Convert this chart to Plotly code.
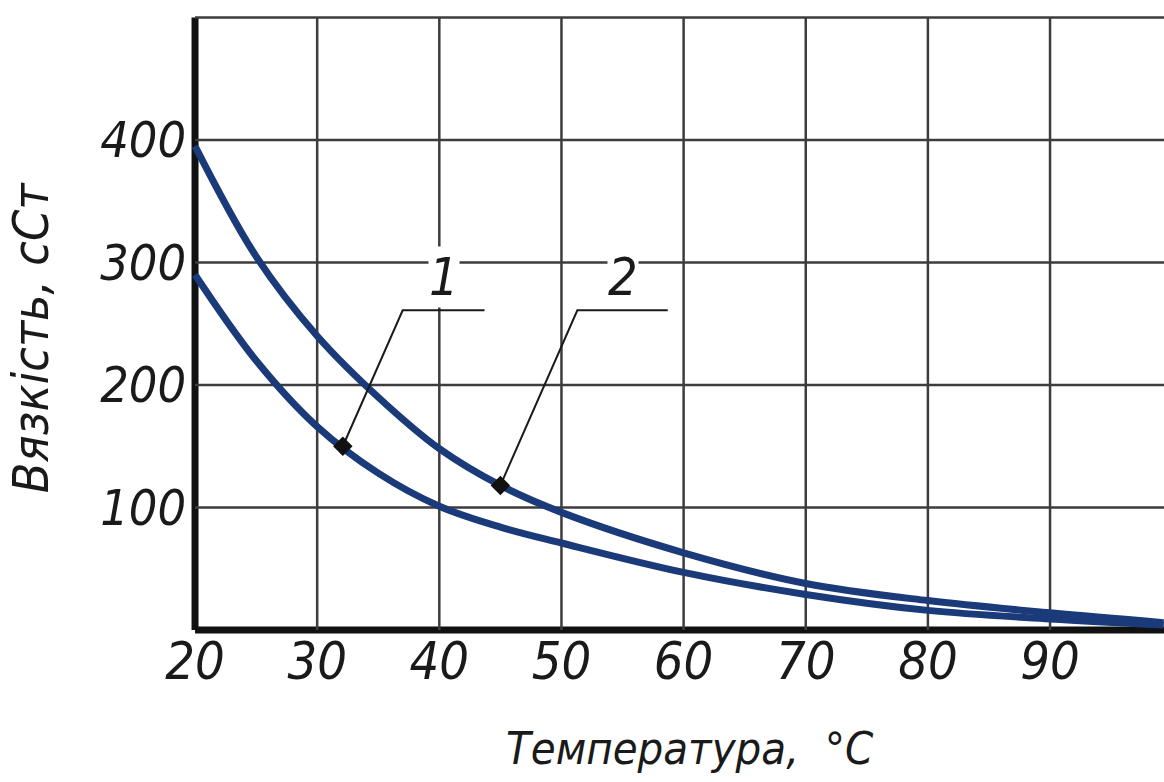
import plotly.graph_objects as go

# Viscosity of two oils versus temperature
temperature = [20, 25, 30, 35, 40, 45, 50, 60, 70, 80, 90, 99.3]
viscosity_1 = [290, 220, 166, 128, 101, 84, 71, 47, 29, 16, 9, 4]
viscosity_2 = [395, 305, 240, 190, 148, 118, 96, 63, 38, 24, 14, 6]

x_ticks = [20, 30, 40, 50, 60, 70, 80, 90]
y_ticks = [100, 200, 300, 400]

# Callouts "1" and "2": point on the curve, bend of the leader, end of the shelf, label spot
callout_names = ["1", "2"]
callout_point_t = [32.1, 45.0]
callout_point_v = [150, 118]
callout_bend_t = [37.0, 51.3]
callout_shelf_end_t = [43.7, 58.7]
callout_shelf_v = 261
callout_label_t = [40.4, 55.0]
callout_label_v = 288

FONT = "Liberation Sans Narrow, DejaVu Sans Condensed, Arial Narrow, sans-serif"
CURVE = "#1b3a7a"
GRID = "#3d3d3d"
INK = "#1a1a1a"

fig = go.Figure()

for vals in (viscosity_1, viscosity_2):
    fig.add_trace(go.Scatter(
        x=temperature, y=vals, mode="lines",
        line=dict(color=CURVE, width=7, shape="spline", smoothing=1.0),
        showlegend=False, hoverinfo="skip",
    ))

# leader lines
for i in range(len(callout_names)):
    fig.add_trace(go.Scatter(
        x=[callout_point_t[i], callout_bend_t[i], callout_shelf_end_t[i]],
        y=[callout_point_v[i], callout_shelf_v, callout_shelf_v],
        mode="lines", line=dict(color=INK, width=2),
        showlegend=False, hoverinfo="skip",
    ))

fig.add_trace(go.Scatter(
    x=callout_point_t, y=callout_point_v, mode="markers",
    marker=dict(symbol="diamond", size=15, color="#111111"),
    showlegend=False, hoverinfo="skip",
))

for i, name in enumerate(callout_names):
    fig.add_annotation(
        x=callout_label_t[i], y=callout_label_v, text=name, showarrow=False,
        font=dict(family=FONT, size=52, color=INK, style="italic"),
        bgcolor="white", borderpad=0,
    )

# heavy axis lines at T = 20 and viscosity = 0
fig.add_shape(type="line", x0=20, x1=20, y0=0, y1=500, xref="x", yref="y",
              line=dict(color="#111111", width=7), layer="below")
fig.add_shape(type="line", x0=20, x1=99.4, y0=0, y1=0, xref="x", yref="y",
              line=dict(color="#111111", width=7), layer="below")

fig.add_annotation(
    xref="paper", yref="paper", x=0.513, y=-0.185, xanchor="center", yanchor="middle",
    text="Температура,  °C", showarrow=False,
    font=dict(family=FONT, size=45, color=INK, style="italic"),
)
fig.add_annotation(
    xref="paper", yref="paper", x=-0.165, y=0.48, xanchor="center", yanchor="middle",
    text="Вязкість, сСт", textangle=-90, showarrow=False,
    font=dict(family=FONT, size=50, color=INK, style="italic"),
)

fig.update_xaxes(
    range=[19.67, 99.33], tickvals=x_ticks, ticktext=[str(v) for v in x_ticks],
    showgrid=False, zeroline=False, showline=False, ticks="",
    ticklabelstandoff=-8,
    tickfont=dict(family=FONT, size=52, color=INK, style="italic"),
)
fig.update_yaxes(
    range=[-3.27, 502.0], tickvals=y_ticks, ticktext=[str(v) for v in y_ticks],
    showgrid=False, zeroline=False, showline=False, ticks="",
    ticklabelstandoff=4,
    tickfont=dict(family=FONT, size=50, color=INK, style="italic"),
)

# grid
for t in [30, 40, 50, 60, 70, 80, 90]:
    fig.add_shape(type="line", x0=t, x1=t, y0=0, y1=500, xref="x", yref="y",
                  line=dict(color=GRID, width=2.5), layer="below")
for v in [100, 200, 300, 400, 500]:
    fig.add_shape(type="line", x0=20, x1=99.33, y0=v, y1=v, xref="x", yref="y",
                  line=dict(color=GRID, width=2.5), layer="below")

fig.update_layout(
    width=1164, height=782,
    margin=dict(l=191, r=0, t=15, b=148),
    paper_bgcolor="white", plot_bgcolor="white",
)

fig.write_html("out.html")
